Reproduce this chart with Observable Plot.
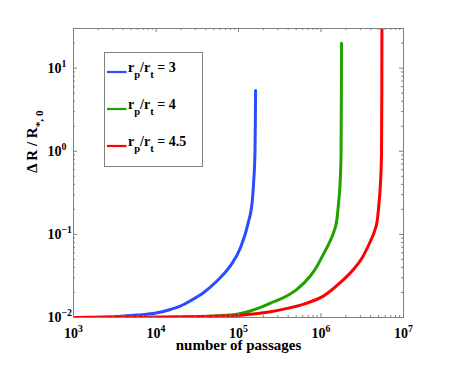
<!DOCTYPE html>
<html><head><meta charset="utf-8">
<script src="https://cdn.jsdelivr.net/npm/d3@7"></script>
<script src="https://cdn.jsdelivr.net/npm/@observablehq/plot@0.6"></script>
<style>body{margin:0;background:#fff}</style>
</head><body><div id="chart"></div>
<script>
// ---- data ----
const passages3 = [1e3, 3e3, 6e3, 1e4, 1.5e4, 2e4, 2.62e4, 3.79e4, 5.52e4, 8.0e4, 1.06e5, 1.30e5, 1.47e5, 1.53e5, 1.585e5, 1.60e5, 1.61e5];
const deltaR3   = [0.01, 0.0102, 0.0107, 0.0113, 0.0125, 0.0138, 0.0159, 0.020, 0.0277, 0.042, 0.0697, 0.133, 0.255, 0.443, 1.0, 2.2, 5.38];

const passages4 = [1e3, 1e4, 6.03e4, 1.2e5, 1.85e5, 2.44e5, 3.54e5, 5.15e5, 7.46e5, 8.91e5, 1.035e6, 1.29e6, 1.43e6, 1.55e6, 1.633e6, 1.70e6, 1.75e6, 1.766e6, 1.774e6];
const deltaR4   = [0.01, 0.0101, 0.0105, 0.0115, 0.0132, 0.0149, 0.0174, 0.022, 0.0318, 0.041, 0.0543, 0.0832, 0.107, 0.146, 0.24, 0.398, 0.93, 5.0, 20];

const passages45 = [1e3, 1e4, 5.01e4, 1e5, 2.44e5, 3.54e5, 6.2e5, 1.08e6, 1.72e6, 2.5e6, 3.16e6, 3.98e6, 4.42e6, 4.8e6, 5.05e6, 5.25e6, 5.41e6, 5.46e6, 5.48e6];
const deltaR45   = [0.01, 0.0101, 0.01035, 0.0106, 0.0117, 0.0126, 0.0145, 0.0182, 0.0264, 0.0383, 0.0525, 0.0832, 0.107, 0.146, 0.24, 0.398, 0.93, 5.0, 40];

const seriesLabels = ["r_{p}/r_{t} = 3", "r_{p}/r_{t} = 4", "r_{p}/r_{t} = 4.5"];
const seriesColors = ["#2a4bff", "#22a000", "#ff0000"];

const xTickValues = [1e3, 1e4, 1e5, 1e6, 1e7];
const xTickLabels = ["10^{3}", "10^{4}", "10^{5}", "10^{6}", "10^{7}"];
const yTickValues = [1e-2, 1e-1, 1e0, 1e1];
const yTickLabels = ["10^{\u22122}", "10^{\u22121}", "10^{0}", "10^{1}"];
const xLabel = "number of passages";
const yLabel = "\u0394 R / R_{*, 0}";

// ---- layout / style ----
const W = 457, H = 374;
const mL = 73, mR = 54, mT = 28, mB = 57;
const fw = W - mL - mR, fh = H - mT - mB;
const serif = "Liberation Serif, Times New Roman, Times, serif";
const frameColor = "#808080";

const rows = [];
[[passages3, deltaR3], [passages4, deltaR4], [passages45, deltaR45]].forEach(([xs, ys], s) => {
  xs.forEach((x, i) => rows.push({series: seriesLabels[s], n: x, dr: ys[i]}));
});

const xMinor = [];
for (let k = 3; k < 7; k++) for (let m = 2; m <= 9; m++) xMinor.push(m * 10 ** k);
const yMinor = [];
for (let k = -2; k < 2; k++) for (let m = 2; m <= 9; m++) { const v = m * 10 ** k; if (v <= 30) yMinor.push(v); }

function legendMark(index, scales, values, dims) {
  const g = d3.create("svg:g").attr("font-family", serif).attr("font-weight", "bold").attr("font-size", 14);
  const x0 = dims.marginLeft + 31, y0 = dims.marginTop + 24;
  g.append("rect").attr("x", x0 + 0.5).attr("y", y0 + 0.5).attr("width", 98).attr("height", 114)
    .attr("fill", "white").attr("stroke", frameColor);
  seriesLabels.forEach((lab, i) => {
    const ly = y0 + 20 + i * 37;
    g.append("line").attr("x1", x0 + 3).attr("x2", x0 + 22.5).attr("y1", ly).attr("y2", ly)
      .attr("stroke", seriesColors[i]).attr("stroke-width", 2.2);
    g.append("text").attr("x", x0 + 24).attr("y", ly).attr("text-anchor", "start")
      .attr("fill", "black").text(lab);
  });
  return g.node();
}

const txt = {fontFamily: serif, fontWeight: "bold", fill: "black"};
const tickLen = 4, minorLen = 2;
const plot = Plot.plot({
  width: W, height: H,
  marginLeft: mL, marginRight: mR, marginTop: mT, marginBottom: mB,
  style: {background: "white"},
  x: {type: "log", domain: [1e3, 1e7], axis: null},
  y: {type: "log", domain: [0.01, 30], axis: null},
  color: {domain: seriesLabels, range: seriesColors},
  marks: [
    Plot.line(rows, {x: "n", y: "dr", z: "series", stroke: "series", strokeWidth: 3, curve: "monotone-x", clip: true}),
    // major ticks (inward) on all four sides
    Plot.ruleX(xTickValues, {x: d => d, insetTop: fh - tickLen, stroke: frameColor}),
    Plot.ruleX(xTickValues, {x: d => d, insetBottom: fh - tickLen, stroke: frameColor}),
    Plot.ruleY(yTickValues, {y: d => d, insetRight: fw - tickLen, stroke: frameColor}),
    Plot.ruleY(yTickValues, {y: d => d, insetLeft: fw - tickLen, stroke: frameColor}),
    // minor ticks
    Plot.ruleX(xMinor, {x: d => d, insetTop: fh - minorLen, stroke: frameColor}),
    Plot.ruleX(xMinor, {x: d => d, insetBottom: fh - minorLen, stroke: frameColor}),
    Plot.ruleY(yMinor, {y: d => d, insetRight: fw - minorLen, stroke: frameColor}),
    Plot.ruleY(yMinor, {y: d => d, insetLeft: fw - minorLen, stroke: frameColor}),
    Plot.frame({stroke: frameColor}),
    // tick labels
    Plot.text(xTickValues, {x: d => d, frameAnchor: "bottom", lineAnchor: "middle", dy: 16,
      text: (d, i) => xTickLabels[i], textAnchor: "middle", fontSize: 14, ...txt}),
    Plot.text(yTickValues, {y: d => d, frameAnchor: "left", lineAnchor: "middle", dx: -26,
      text: (d, i) => yTickLabels[i], textAnchor: "start", fontSize: 14, ...txt}),
    // axis titles
    Plot.text([xLabel], {frameAnchor: "bottom", lineAnchor: "middle", dy: 28, fontSize: 15, ...txt}),
    Plot.text([yLabel], {frameAnchor: "left", lineAnchor: "middle", dx: -41, rotate: -90, fontSize: 15, ...txt}),
    legendMark
  ]
});

document.getElementById("chart").appendChild(plot);

// turn ^{..} and _{..} into real super/subscript tspans
const NS = "http://www.w3.org/2000/svg";
plot.querySelectorAll("text").forEach(el => {
  const s = el.textContent;
  if (!/[\^_]\{/.test(s)) return;
  const base = parseFloat(getComputedStyle(el).fontSize) || 14;
  while (el.firstChild) el.removeChild(el.firstChild);
  let cur = 0, last = 0, m;
  const re = /([\^_])\{([^}]*)\}/g;
  const add = (str, dy, size) => {
    const t = document.createElementNS(NS, "tspan");
    t.textContent = str;
    if (dy) t.setAttribute("dy", dy);
    if (size) t.setAttribute("font-size", size);
    el.appendChild(t);
  };
  while ((m = re.exec(s))) {
    if (m.index > last) { add(s.slice(last, m.index), -cur); cur = 0; }
    if (m[1] === "^") { const sh = -0.4 * base; add(m[2], sh - cur, 0.7 * base); cur = sh; }
    else { const sh = 0.4 * base; add(m[2], sh - cur, 0.75 * base); cur = sh; }
    last = re.lastIndex;
  }
  if (last < s.length) { add(s.slice(last), -cur); cur = 0; }
});
</script>
</body></html>
